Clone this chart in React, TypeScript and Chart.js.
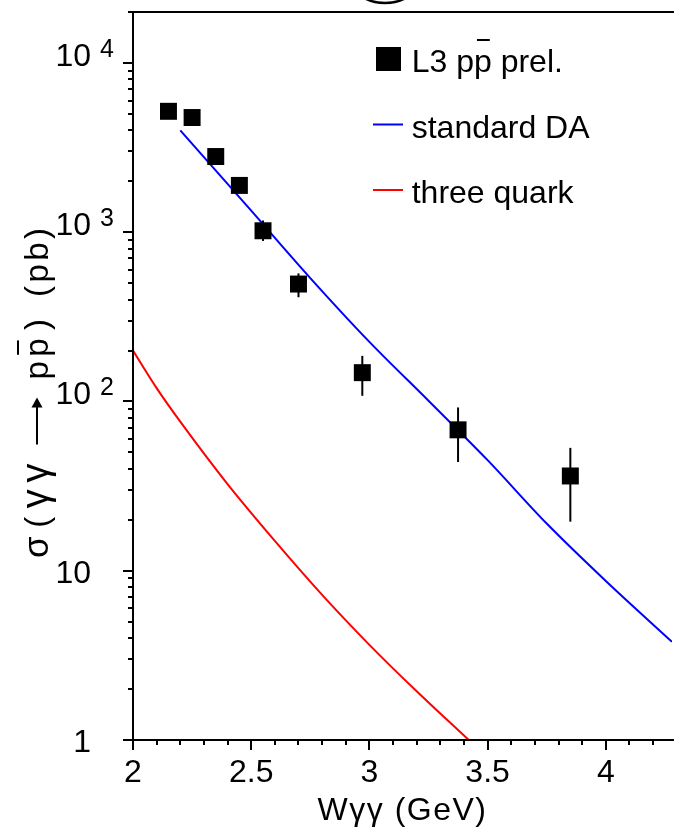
import React, { useEffect, useRef } from "react";
import { Chart, registerables } from "chart.js";

Chart.register(...registerables);

// ---- data ----
const wData = [2.15, 2.25, 2.35, 2.45, 2.55, 2.7, 2.97, 3.375, 3.85];
const sigmaData = [5180, 4760, 2800, 1890, 1020, 494, 148, 68, 36.3];
const sigmaLow = [4950, 4550, 2680, 1800, 888, 413, 108, 43.9, 19.5];
const sigmaHigh = [5420, 4980, 2920, 1980, 1173, 571, 186, 92.2, 53.2];

const wDA = [2.2, 2.5, 2.75, 3.0, 3.25, 3.5, 3.75, 4.0, 4.28];
const sigmaDA = [4000, 1340, 536, 225, 101, 45, 19, 8.7, 3.8];

const wTQ = [2.0, 2.1, 2.2, 2.4, 2.6, 2.8, 3.0, 3.2, 3.42];
const sigmaTQ = [200, 120, 76, 32.5, 15, 7.2, 3.65, 1.94, 1.0];

const seriesLabels = ["L3 pp prel.", "standard DA", "three quark"];

const xTickValues = [2, 2.5, 3, 3.5, 4];
const xTickLabels = ["2", "2.5", "3", "3.5", "4"];
const yTickValues = [1, 10, 100, 1000, 10000];
const yTickBase = ["1", "10", "10", "10", "10"];
const yTickExp = ["", "", "2", "3", "4"];

const xTitle = "W\u03b3\u03b3 (GeV)";
// y title glyphs, bottom to top; "→" is drawn as a long arrow, "P" marks the barred p
const yTitleGlyphs = ["\u03c3", "(", "\u03b3", "\u03b3", "\u2192", "p", "P", ")", " ", "(", "p", "b", ")"];
const yTitleGapWeights = [1, 1, 0.8, 2, 2, 0.5, 1, 1.5, 0, 0.4, 0.4, 0.4, 0];

const X_MIN = 2;
const X_MAX = 4.28;
const Y_MIN = 1;
const Y_MAX = 20000;

const FONT = '"Liberation Sans", Arial, Helvetica, sans-serif';

const decorPlugin = {
  id: "decor",
  beforeDatasetsDraw(chart: any) {
    const ctx = chart.ctx;
    const xs = chart.scales.x;
    const ys = chart.scales.y;
    ctx.save();
    ctx.strokeStyle = "#000";
    ctx.lineWidth = 2;
    for (let i = 0; i < wData.length; i++) {
      const x = xs.getPixelForValue(wData[i]);
      ctx.beginPath();
      ctx.moveTo(x, ys.getPixelForValue(sigmaLow[i]));
      ctx.lineTo(x, ys.getPixelForValue(sigmaHigh[i]));
      ctx.stroke();
    }
    ctx.restore();
  },
  afterDraw(chart: any) {
    const ctx = chart.ctx;
    const xs = chart.scales.x;
    const ys = chart.scales.y;
    const a = chart.chartArea;
    ctx.save();
    ctx.strokeStyle = "#000";
    ctx.fillStyle = "#000";
    ctx.lineWidth = 2;
    ctx.lineCap = "butt";

    // frame
    ctx.beginPath();
    ctx.moveTo(a.left, a.bottom);
    ctx.lineTo(a.left, a.top);
    ctx.lineTo(a.right + 2, a.top);
    ctx.moveTo(a.left - 1, a.bottom);
    ctx.lineTo(a.right + 2, a.bottom);
    ctx.stroke();

    // y ticks (log)
    ctx.beginPath();
    for (let k = 0; k <= 4; k++) {
      for (let m = 1; m <= 9; m++) {
        const v = m * Math.pow(10, k);
        if (v > Y_MAX) continue;
        const y = Math.round(ys.getPixelForValue(v));
        const len = m === 1 ? 10 : 5;
        ctx.moveTo(a.left - len, y);
        ctx.lineTo(a.left, y);
      }
    }
    // x ticks
    for (let t = 20; t <= 42; t++) {
      const v = t / 10;
      const x = Math.round(xs.getPixelForValue(v));
      const len = t % 5 === 0 ? 10 : 5;
      ctx.moveTo(x, a.bottom);
      ctx.lineTo(x, a.bottom + len);
    }
    ctx.stroke();

    // x tick labels
    ctx.font = `32px ${FONT}`;
    ctx.textAlign = "center";
    ctx.textBaseline = "alphabetic";
    xTickValues.forEach((v, i) => {
      ctx.fillText(xTickLabels[i], xs.getPixelForValue(v), a.bottom + 42);
    });

    // y tick labels
    yTickValues.forEach((v, i) => {
      const y = ys.getPixelForValue(v);
      ctx.font = `32px ${FONT}`;
      ctx.textAlign = "right";
      if (yTickExp[i]) {
        ctx.fillText(yTickBase[i], 91, y + 3);
        ctx.font = `25px ${FONT}`;
        ctx.textAlign = "left";
        ctx.fillText(yTickExp[i], 100, y - 6);
      } else {
        ctx.fillText(yTickBase[i], 91, y + 12);
      }
    });

    // x title
    ctx.font = `32px ${FONT}`;
    ctx.textAlign = "center";
    (ctx as any).letterSpacing = "1.5px";
    ctx.fillText(xTitle, (a.left + a.right) / 2, a.bottom + 80);
    (ctx as any).letterSpacing = "0px";

    // y title (rotated, reading bottom to top)
    ctx.save();
    ctx.translate(48, 558);
    ctx.rotate(-Math.PI / 2);
    ctx.textAlign = "left";
    const fontFor = (g: string) =>
      g === "\u03b3" ? `38px ${FONT}` : g === "\u03c3" ? `35px ${FONT}` : `33px ${FONT}`;
    const arrowLen = 50;
    const widths = yTitleGlyphs.map((g) => {
      if (g === "\u2192") return arrowLen;
      ctx.font = fontFor(g);
      return ctx.measureText(g === "P" ? "p" : g).width;
    });
    const natural = widths.reduce((s, w) => s + w, 0);
    const target = 330;
    const wsum = yTitleGapWeights.reduce((s, w) => s + w, 0);
    const unit = Math.max(0, (target - natural) / wsum);
    let px = 0;
    yTitleGlyphs.forEach((g, i) => {
      if (g === "\u2192") {
        ctx.lineWidth = 2;
        ctx.beginPath();
        ctx.moveTo(px + 2, -11);
        ctx.lineTo(px + arrowLen - 4, -11);
        ctx.stroke();
        ctx.beginPath();
        ctx.moveTo(px + arrowLen - 1, -11);
        ctx.lineTo(px + arrowLen - 11, -16.5);
        ctx.lineTo(px + arrowLen - 11, -5.5);
        ctx.closePath();
        ctx.fill();
      } else if (g === "P") {
        ctx.font = fontFor("p");
        ctx.fillText("p", px, 0);
        ctx.fillRect(px + 2, -31, widths[i] - 4, 2);
      } else {
        ctx.font = fontFor(g);
        ctx.fillText(g, px, 0);
      }
      px += widths[i] + unit * yTitleGapWeights[i];
    });
    ctx.restore();

    // legend
    const lx = 411.7;
    const rows = [59, 124.5, 190];
    ctx.font = `32px ${FONT}`;
    ctx.textAlign = "left";
    ctx.fillRect(376, rows[0] - 12, 25, 24);
    const label0 = seriesLabels[0];
    ctx.fillText(label0, lx, rows[0] + 13);
    const pre = ctx.measureText(label0.slice(0, 4)).width;
    const pw = ctx.measureText("p").width;
    ctx.fillRect(lx + pre + 3, rows[0] - 20, pw - 5, 2);
    const colors = ["#0000ff", "#ff0000"];
    [1, 2].forEach((j) => {
      ctx.strokeStyle = colors[j - 1];
      ctx.lineWidth = 2;
      ctx.beginPath();
      ctx.moveTo(373, rows[j]);
      ctx.lineTo(403, rows[j]);
      ctx.stroke();
      ctx.fillStyle = "#000";
      ctx.fillText(seriesLabels[j], lx, rows[j] + 13);
    });

    // partial ring at the top edge
    ctx.strokeStyle = "#000";
    ctx.lineWidth = 2.5;
    ctx.beginPath();
    ctx.ellipse(385, -10, 26, 13, 0, 0, Math.PI * 2);
    ctx.stroke();

    ctx.restore();
  },
};

export default function App() {
  const ref = useRef<HTMLCanvasElement | null>(null);
  useEffect(() => {
    if (!ref.current) return;
    const chart = new Chart(ref.current, {
      type: "scatter",
      data: {
        datasets: [
          {
            type: "scatter",
            label: seriesLabels[0],
            data: wData.map((x, i) => ({ x, y: sigmaData[i] })),
            pointStyle: "rect",
            pointRadius: 12,
            backgroundColor: "#000",
            borderColor: "#000",
            borderWidth: 0,
            order: 0,
          },
          {
            type: "line",
            label: seriesLabels[1],
            data: wDA.map((x, i) => ({ x, y: sigmaDA[i] })),
            borderColor: "#0000ff",
            borderWidth: 2,
            pointRadius: 0,
            fill: false,
            cubicInterpolationMode: "monotone",
            order: 1,
          },
          {
            type: "line",
            label: seriesLabels[2],
            data: wTQ.map((x, i) => ({ x, y: sigmaTQ[i] })),
            borderColor: "#ff0000",
            borderWidth: 2,
            pointRadius: 0,
            fill: false,
            cubicInterpolationMode: "monotone",
            order: 1,
          },
        ],
      } as any,
      options: {
        responsive: false,
        animation: false,
        events: [],
        layout: { padding: { left: 133, top: 7, right: 0, bottom: 94 } },
        scales: {
          x: { type: "linear", min: X_MIN, max: X_MAX, display: false },
          y: { type: "logarithmic", min: Y_MIN, max: Y_MAX, display: false },
        },
        plugins: { legend: { display: false }, tooltip: { enabled: false } },
      } as any,
      plugins: [decorPlugin],
    });
    return () => chart.destroy();
  }, []);
  return (
    <div style={{ position: "absolute", left: 0, top: 0, width: 684, height: 834, overflow: "hidden", background: "#fff" }}>
      <canvas ref={ref} width={684} height={834} style={{ width: 684, height: 834, display: "block" }} />
    </div>
  );
}
